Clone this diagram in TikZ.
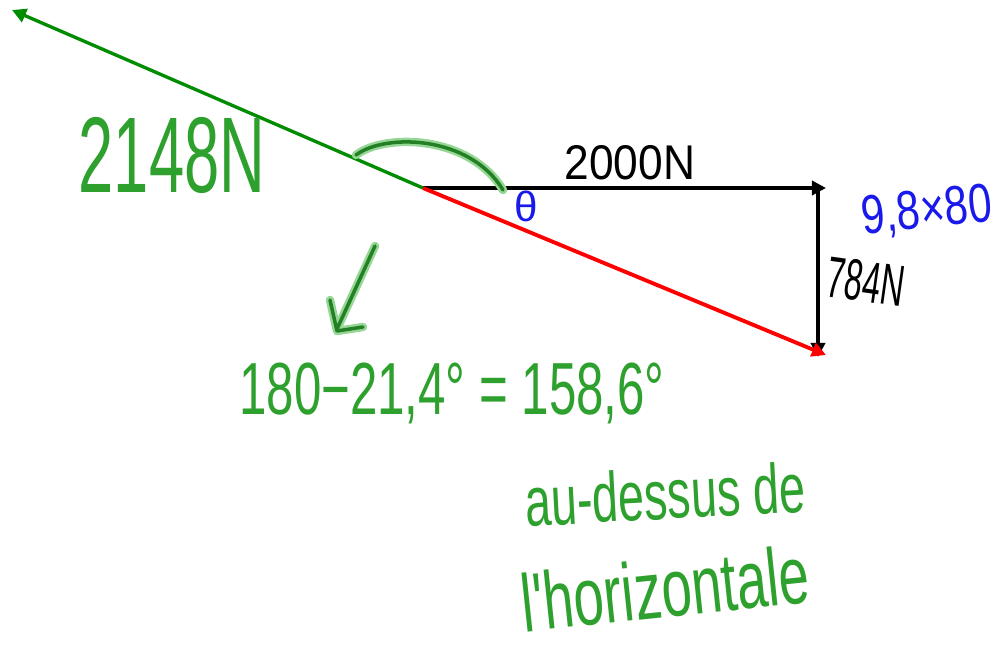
\documentclass[tikz,border=0pt]{standalone}
\usepackage{fontspec}
\setmainfont{Liberation Sans}
\usetikzlibrary{arrows.meta}
\definecolor{penGreen}{RGB}{45,160,45}
\definecolor{penHalo}{RGB}{150,215,150}
\definecolor{lineGreen}{RGB}{0,140,0}
\definecolor{penBlue}{RGB}{25,25,235}
\newcommand{\handtext}[3]{\scalebox{1}[#2]{\fontsize{#1}{#1}\selectfont #3}}

\begin{document}
\begin{tikzpicture}[x=0.01cm,y=-0.01cm,
  vec/.style={line width=1.1pt,arrows=-{Triangle[length=4pt,width=4pt]}},
  pen/.style={inner sep=0pt,text=penGreen}]
\useasboundingbox (0,0) rectangle (997,645);
\coordinate (O) at (423,188);
\coordinate (F) at (826,188);
\coordinate (Ftop) at (818,188);
\coordinate (W) at (818,357);
\coordinate (R) at (826,355);
\coordinate (T) at (12,10);

% vectors
\draw[vec,color=black] (O) -- (F);
\draw[vec,color=black] (Ftop) -- (W);
\draw[vec,color=red] (O) -- (R);
\draw[vec,color=lineGreen,line width=0.95pt] (O) -- (T);

% angle arc
\draw[penHalo,line width=2.4pt,line cap=round] (356,155) .. controls (385,133) and (470,135) .. (503,190);
\draw[penGreen!80!black,line width=1pt,line cap=round] (356,155) .. controls (385,133) and (470,135) .. (503,190);

% small hand arrow
\draw[penHalo,line width=2.4pt,line cap=round,line join=round] (375,246) -- (337,329) (330,300) -- (337,331) -- (363,327);
\draw[penGreen!80!black,line width=1pt,line cap=round,line join=round] (375,246) -- (337,329) (330,300) -- (337,331) -- (363,327);

% labels
\node[pen] (force) at (172,155) {\handtext{18}{1.7}{2148N}};
\node[inner sep=0pt] (horiz) at (630,163) {\handtext{12.6}{1.1}{2000N}};
\node[inner sep=0pt,text=penBlue] (theta) at (526,206) {\handtext{12}{1}{θ}};
\node[inner sep=0pt,text=penBlue,rotate=6] (poids) at (927,212) {\handtext{12}{1.3}{9,8×80}};
\node[inner sep=0pt,rotate=-8] (vert) at (866,282) {\handtext{9.2}{1.8}{784N}};
\node[pen] (calc) at (452,393) {\handtext{14}{1.5}{180−21,4° = 158,6°}};
\node[pen,rotate=3] (ligne1) at (665,494) {\handtext{13.3}{1.5}{au-dessus de}};
\node[pen,rotate=6] (ligne2) at (665,588) {\handtext{15.5}{1.5}{l\textquotesingle horizontale}};
\end{tikzpicture}
\end{document}
